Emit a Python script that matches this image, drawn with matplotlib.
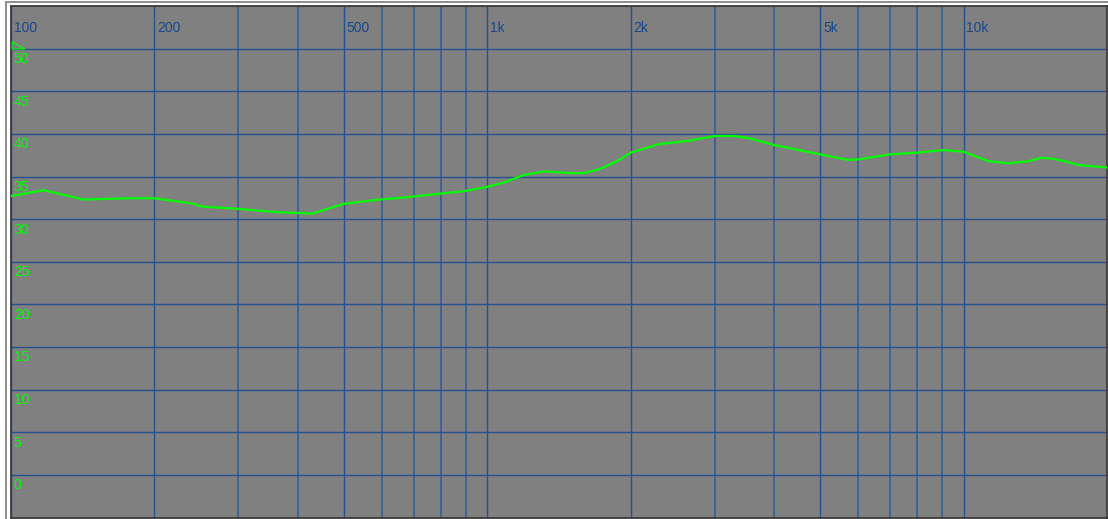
import matplotlib
matplotlib.use("Agg")
import matplotlib.pyplot as plt
from matplotlib.patches import Rectangle, Polygon
import numpy as np

# ---- data ----
freq_hz = [100, 117, 142, 178, 200, 243, 249, 300, 366, 430, 500, 594, 629, 700,
           800, 900, 1000, 1085, 1196, 1317, 1486, 1597, 1717, 1873, 2000, 2294,
           2651, 3000, 3295, 3543, 4000, 4510, 5000, 5712, 6000, 7000, 8000, 9080,
           10000, 11282, 12428, 13690, 14574, 15292, 16280, 17422, 20000]
level_db = [32.7, 33.4, 32.3, 32.45, 32.45, 31.8, 31.5, 31.2, 30.8, 30.65, 31.8, 32.3,
            32.4, 32.65, 33.0, 33.3, 33.8, 34.3, 35.2, 35.6, 35.4, 35.4, 35.85, 36.8,
            37.8, 38.8, 39.2, 39.75, 39.75, 39.5, 38.7, 38.1, 37.6, 36.95, 37.0, 37.6,
            37.8, 38.1, 37.9, 36.8, 36.55, 36.8, 37.2, 37.1, 36.8, 36.35, 36.05]

x_grid = [100, 200, 300, 400, 500, 600, 700, 800, 900, 1000, 2000, 3000, 4000,
          5000, 6000, 7000, 8000, 9000, 10000]
x_labels = {100: "100", 200: "200", 500: "500", 1000: "1k", 2000: "2k",
            5000: "5k", 10000: "10k"}
y_grid = [0, 5, 10, 15, 20, 25, 30, 35, 40, 45, 50]
y_labels = ["0", "5", "10", "15", "20", "25", "30", "35", "40", "45", "50"]

X_MIN, X_MAX = 100, 20000
Y_MIN, Y_MAX = -5, 55

W, H = 1108, 519
fig = plt.figure(figsize=(W / 100, H / 100), dpi=100)
fig.patch.set_facecolor("white")
plt.rcParams["font.family"] = ["Liberation Sans", "DejaVu Sans"]

# outer thin frame
fig.add_artist(Rectangle((6 / W, -0.01), 1.1, 1 - 1.5 / H + 0.01,
                         transform=fig.transFigure, fill=False,
                         edgecolor="#7a7a7a", linewidth=1.2))

ax = fig.add_axes([11 / W, 1 - 517.5 / H, (1107 - 11) / W, (517.5 - 6) / H])
ax.set_facecolor("#808080")
ax.set_xscale("log")
ax.set_xlim(X_MIN, X_MAX)
ax.set_ylim(Y_MIN, Y_MAX)
for s in ax.spines.values():
    s.set_color("#3a3a3a")
    s.set_linewidth(1.3)
ax.set_xticks([])
ax.set_yticks([])
ax.minorticks_off()

major = {100, 200, 500, 1000, 2000, 5000, 10000}
for f in x_grid:
    if f in major:
        ax.axvline(f, color="#23528f", lw=1.0, zorder=1)
    else:
        ax.axvline(f, color="#3d6494", lw=1.4, zorder=1)
for v in y_grid:
    ax.axhline(v, color="#23528f", lw=1.0, zorder=1)

# x labels at top
for f, lab in x_labels.items():
    ax.annotate(lab, xy=(f, 1), xycoords=("data", "axes fraction"),
                xytext=(2, -15.5), textcoords="offset points",
                ha="left", va="center", color="#17478a", fontsize=10)

# y labels (green, just below each gridline)
for v, lab in zip(y_grid, y_labels):
    ax.annotate(lab, xy=(0, v), xycoords=("axes fraction", "data"),
                xytext=(2, -2.5), textcoords="offset points",
                ha="left", va="top", color="#00ff00", fontsize=10)

# small green marker triangle at top-left
ax.add_patch(Polygon([[0.001, 1 - 36 / 511.5], [0.001, 1 - 43 / 511.5],
                      [14 / 1096, 1 - 43 / 511.5]], closed=True,
                     transform=ax.transAxes, fill=False,
                     edgecolor="#00ff00", lw=0.8, zorder=4))

ax.plot(freq_hz, level_db, color="#00ff00", lw=1.6, zorder=5,
        solid_joinstyle="round")

fig.savefig("out.png", dpi=100, facecolor="white")
